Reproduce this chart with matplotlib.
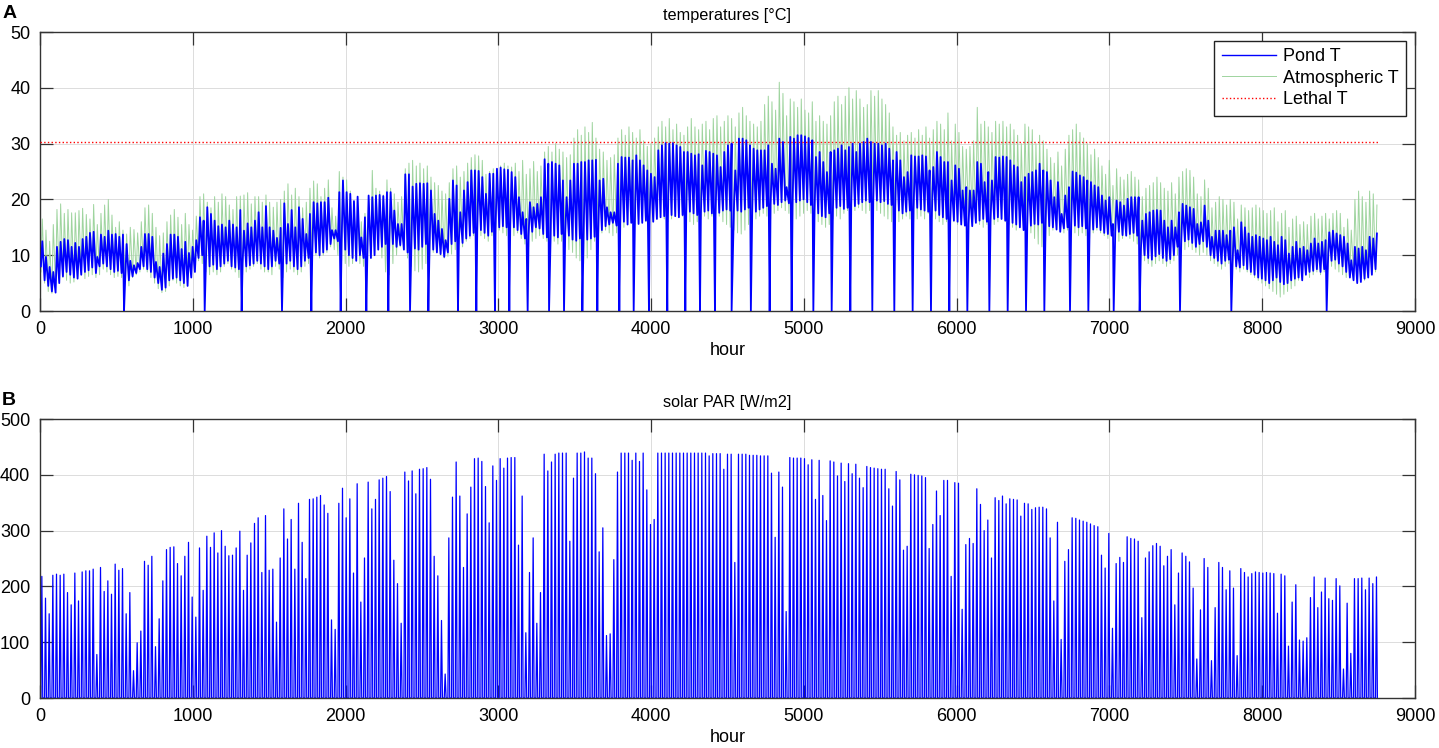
import numpy as np
import matplotlib

matplotlib.use("Agg")
import matplotlib.pyplot as plt  # noqa: E402

plt.rcParams["font.family"] = ["Liberation Sans", "DejaVu Sans"]

# daily peak of solar PAR [W/m2], one value per day
par_peak = [
    218, 179, 151, 220, 222, 220, 222, 189, 167, 224,
    174, 226, 228, 228, 231, 78, 234, 191, 210, 186,
    240, 229, 232, 151, 189, 49, 99, 120, 245, 238,
    254, 92, 142, 210, 266, 270, 271, 241, 219, 254,
    279, 181, 145, 269, 193, 290, 270, 296, 260, 300,
    272, 255, 256, 269, 299, 193, 256, 278, 313, 323,
    225, 327, 229, 231, 136, 251, 339, 285, 320, 231,
    349, 279, 214, 356, 357, 360, 363, 346, 331, 140,
    123, 349, 376, 323, 357, 224, 384, 172, 251, 387,
    339, 356, 391, 394, 397, 370, 247, 205, 134, 405,
    389, 407, 366, 410, 411, 413, 392, 254, 219, 139,
    43, 287, 360, 423, 362, 234, 330, 378, 429, 430,
    424, 379, 314, 416, 390, 429, 412, 430, 431, 431,
    274, 362, 117, 225, 287, 134, 189, 437, 407, 423,
    437, 439, 439, 439, 281, 394, 439, 439, 441, 430,
    430, 402, 262, 305, 112, 115, 248, 405, 439, 439,
    439, 426, 439, 424, 439, 373, 311, 320, 439, 439,
    439, 439, 439, 439, 439, 439, 439, 439, 439, 439,
    439, 439, 434, 438, 438, 438, 410, 437, 437, 243,
    437, 437, 437, 435, 435, 435, 434, 434, 434, 403,
    288, 405, 378, 155, 431, 430, 430, 430, 429, 418,
    427, 356, 426, 363, 318, 425, 423, 398, 421, 388,
    420, 402, 419, 394, 377, 415, 413, 412, 411, 410,
    410, 375, 344, 406, 391, 265, 272, 401, 400, 399,
    398, 395, 268, 311, 371, 327, 390, 390, 218, 386,
    385, 159, 275, 286, 277, 375, 347, 300, 319, 251,
    359, 354, 362, 348, 357, 356, 355, 326, 349, 348,
    338, 341, 342, 342, 339, 287, 174, 315, 105, 245,
    266, 323, 322, 319, 317, 315, 312, 309, 307, 256,
    233, 295, 125, 241, 252, 243, 289, 286, 285, 281,
    144, 251, 262, 273, 277, 272, 237, 254, 266, 167,
    224, 260, 254, 244, 197, 70, 158, 250, 234, 67,
    162, 243, 234, 194, 228, 197, 76, 232, 225, 217,
    223, 226, 225, 224, 225, 224, 223, 152, 222, 219,
    93, 172, 203, 104, 102, 108, 180, 217, 162, 190,
    215, 178, 175, 214, 201, 52, 170, 80, 214, 214,
    215, 194, 215, 205, 217,
]

# pond temperature, daily max / min [°C]
pond_max = [
    12.5, 9.7, 7.9, 7.0, 11.5, 12.4, 12.9, 12.7, 11.5, 12.2,
    11.5, 12.9, 13.3, 14.0, 14.2, 9.7, 13.7, 13.3, 14.4, 13.7,
    13.8, 13.3, 13.7, 12.0, 9.0, 8.2, 8.6, 11.5, 13.8, 13.8,
    13.3, 8.8, 7.9, 10.3, 12.0, 13.7, 13.7, 13.3, 11.1, 12.4,
    10.4, 11.5, 12.7, 16.8, 16.2, 18.6, 17.4, 16.2, 15.2, 15.5,
    15.0, 16.2, 15.5, 15.0, 18.1, 14.4, 15.7, 15.0, 16.2, 17.7,
    15.0, 18.8, 15.0, 14.4, 13.1, 14.9, 19.3, 15.6, 18.1, 15.0,
    18.6, 16.5, 13.8, 17.4, 19.5, 19.3, 19.5, 19.5, 20.3, 14.5,
    14.5, 21.3, 23.4, 21.3, 21.0, 19.7, 20.5, 13.2, 16.8, 20.7,
    20.4, 20.7, 20.8, 20.6, 21.3, 21.3, 18.0, 15.6, 15.6, 24.5,
    24.5, 22.3, 22.8, 22.9, 22.8, 22.9, 21.6, 17.4, 16.2, 14.7,
    12.7, 20.1, 23.4, 22.5, 17.7, 21.6, 23.1, 25.2, 25.2, 25.1,
    24.0, 21.0, 24.6, 24.6, 25.5, 25.7, 25.4, 25.3, 24.9, 24.0,
    20.4, 17.7, 16.5, 19.5, 18.6, 19.2, 20.4, 27.2, 26.4, 26.7,
    26.4, 26.1, 23.4, 20.4, 23.4, 26.4, 26.4, 26.7, 26.7, 27.0,
    27.0, 27.1, 23.4, 23.7, 18.6, 17.7, 17.7, 26.4, 27.6, 27.5,
    27.5, 27.0, 27.9, 27.0, 26.1, 25.2, 24.6, 24.0, 28.8, 29.7,
    30.1, 30.0, 30.1, 29.7, 29.4, 28.5, 28.5, 28.2, 27.9, 28.1,
    26.1, 28.7, 28.5, 28.2, 27.9, 25.8, 28.5, 29.7, 30.0, 25.2,
    30.9, 30.9, 30.6, 29.7, 29.1, 28.8, 28.8, 28.8, 29.7, 26.4,
    25.5, 30.9, 30.3, 22.2, 31.2, 30.9, 31.5, 31.5, 31.3, 31.0,
    30.6, 27.6, 28.5, 26.7, 24.9, 28.5, 28.8, 29.1, 29.7, 28.8,
    29.4, 30.0, 28.5, 30.0, 30.3, 30.9, 30.3, 30.0, 30.0, 29.7,
    30.0, 29.1, 27.0, 28.5, 27.0, 24.0, 24.9, 27.9, 27.7, 27.7,
    27.9, 27.7, 25.2, 25.8, 28.5, 27.6, 26.7, 26.7, 23.4, 26.1,
    25.5, 21.6, 22.2, 21.6, 21.6, 26.7, 26.4, 23.1, 24.9, 23.4,
    27.6, 27.5, 27.7, 27.6, 27.0, 26.1, 25.8, 23.1, 24.0, 24.6,
    24.9, 25.2, 26.4, 25.2, 24.9, 23.4, 20.4, 23.1, 17.4, 20.7,
    22.2, 25.0, 24.8, 24.3, 24.0, 23.4, 23.1, 22.5, 22.2, 20.7,
    19.8, 20.4, 15.6, 19.8, 19.5, 18.9, 20.1, 20.4, 20.4, 20.4,
    16.2, 17.4, 17.7, 18.0, 18.1, 18.0, 16.2, 15.0, 16.2, 15.0,
    17.7, 19.2, 18.9, 18.6, 18.3, 15.6, 15.9, 18.9, 16.2, 13.3,
    14.4, 14.4, 14.4, 13.6, 14.4, 15.0, 10.9, 15.9, 15.0, 13.9,
    13.3, 13.6, 13.3, 13.0, 12.7, 13.3, 12.4, 11.8, 13.3, 12.7,
    10.3, 11.5, 12.4, 11.2, 11.5, 10.9, 12.1, 13.0, 12.1, 12.4,
    12.7, 14.1, 14.4, 13.9, 13.6, 13.3, 12.1, 9.1, 11.5, 11.2,
    11.5, 10.9, 13.3, 13.0, 13.9,
]
pond_min = [
    8.0, 5.5, 4.5, 3.5, 3.3, 5.0, 6.2, 7.0, 6.5, 6.0,
    5.8, 6.5, 7.0, 7.3, 7.8, 6.8, 8.0, 8.5, 8.0, 7.5,
    7.0, 7.2, 6.8, 6.0, 5.5, 6.2, 6.8, 7.5, 8.0, 7.5,
    7.0, 6.0, 5.0, 3.8, 4.2, 5.5, 5.8, 6.0, 5.5, 5.0,
    4.5, 6.0, 7.0, 9.5, 10.0, 8.5, 8.0, 8.3, 7.5, 8.0,
    8.5, 9.0, 8.0, 7.8, 7.5, 8.5, 8.0, 8.2, 8.5, 9.0,
    8.5, 8.0, 7.5, 8.0, 9.0, 8.5, 8.0, 8.5, 9.0, 8.0,
    7.5, 8.0, 9.0, 9.5, 10.0, 10.5, 10.0, 10.5, 11.0, 12.0,
    13.0, 12.5, 12.0, 11.0, 10.0, 9.5, 9.0, 10.0, 9.5, 9.0,
    9.5, 10.0, 11.0, 11.5, 12.0, 12.5, 12.0, 11.5, 11.8, 11.0,
    10.5, 10.8, 11.2, 11.0, 11.5, 12.0, 11.8, 11.0, 10.5, 10.2,
    9.7, 10.5, 12.0, 12.5, 12.8, 12.2, 13.0, 13.5, 14.0, 14.2,
    14.5, 14.0, 13.5, 14.2, 14.8, 15.0, 15.2, 15.0, 15.3, 15.0,
    14.5, 13.8, 13.0, 13.5, 14.2, 15.0, 14.8, 13.8, 13.2, 13.0,
    13.5, 13.2, 13.8, 14.0, 13.5, 12.8, 12.6, 13.0, 13.2, 12.8,
    13.0, 13.3, 13.8, 14.5, 15.2, 15.5, 15.8, 15.3, 15.5, 16.0,
    15.5, 15.8, 16.0, 15.6, 15.8, 16.2, 16.5, 16.0, 16.5, 16.8,
    17.0, 16.8, 17.2, 17.0, 16.8, 17.2, 17.5, 17.8, 17.5, 17.2,
    17.6, 17.8, 18.0, 17.5, 17.2, 17.6, 18.0, 18.2, 18.0, 18.2,
    18.0, 17.8, 18.2, 18.5, 18.0, 17.8, 18.2, 18.5, 18.8, 19.0,
    19.2, 19.0, 19.5, 19.8, 19.3, 19.0, 19.5, 19.8, 20.0, 19.5,
    19.0, 18.0, 17.5, 17.0, 16.8, 17.5, 18.0, 18.5, 18.8, 18.3,
    18.5, 19.0, 18.8, 19.2, 19.5, 19.8, 19.5, 19.6, 19.8, 19.5,
    19.7, 19.2, 19.0, 18.5, 18.0, 17.5, 17.8, 18.0, 18.3, 18.5,
    18.2, 18.0, 17.8, 17.5, 18.0, 17.2, 16.8, 16.5, 16.0, 16.2,
    16.0, 15.5, 15.3, 15.6, 15.2, 15.8, 16.2, 16.5, 16.0, 16.3,
    16.5, 16.8, 16.5, 16.2, 16.0, 15.8, 15.5, 15.0, 14.5, 15.0,
    15.3, 15.6, 15.5, 15.8, 15.4, 15.2, 15.0, 14.6, 14.2, 14.8,
    15.0, 15.5, 15.3, 15.0, 15.2, 14.8, 14.5, 14.6, 15.0, 14.5,
    14.0, 13.8, 13.5, 14.0, 14.2, 13.6, 13.5, 13.8, 14.0, 13.5,
    11.0, 10.0, 9.5, 9.2, 9.8, 10.2, 9.5, 9.0, 9.3, 10.0,
    11.5, 12.2, 12.5, 12.8, 12.2, 11.5, 12.0, 12.5, 11.5, 10.0,
    9.5, 9.0, 8.5, 9.0, 9.2, 8.5, 8.0, 7.8, 8.2, 7.5,
    7.0, 6.5, 6.0, 5.8, 5.5, 5.0, 5.5, 6.0, 5.2, 4.8,
    5.0, 5.5, 5.8, 6.0, 5.5, 6.5, 7.0, 7.2, 7.5, 7.0,
    7.5, 8.5, 9.0, 9.2, 8.5, 8.0, 7.0, 6.0, 5.5, 5.0,
    5.2, 5.8, 6.0, 6.5, 7.5,
]

# hours where the pond temperature drops to 0
drop_hours = [
    550, 1078, 1320, 1584, 1776, 1968, 2136, 2280, 2422, 2542,
    2736, 2856, 2978, 3072, 3192, 3332, 3430, 3550, 3648, 3792,
    3886, 3986, 4106, 4224, 4320, 4418, 4527, 4653, 4776, 4920,
    5062, 5182, 5304, 5448, 5592, 5712, 5832, 5952, 6070, 6214,
    6334, 6454, 6574, 6742, 6862, 7028, 7198, 7462, 7798, 8422,
]

# atmospheric temperature, daily max / min [°C]
atm_max = [
    16.5, 14.5, 12.5, 15.5, 18.2, 19.2, 17.5, 18.2, 17.6, 17.6,
    18.0, 18.4, 17.3, 16.5, 19.1, 15.5, 17.5, 19.0, 20.0, 17.2,
    15.0, 16.0, 14.5, 13.8, 15.0, 14.6, 14.0, 16.0, 18.5, 19.0,
    17.5, 15.0, 13.5, 14.0, 16.0, 17.2, 18.2, 16.8, 15.5, 17.5,
    15.5, 14.5, 17.0, 20.5, 21.0, 19.5, 18.5, 20.5, 19.5, 21.0,
    20.5, 19.0, 18.2, 20.5, 20.6, 20.8, 21.2, 19.2, 20.5, 20.5,
    19.5, 20.8, 19.5, 18.6, 19.5, 20.0, 21.5, 22.8, 20.8, 22.0,
    20.5, 18.5, 19.5, 22.0, 23.3, 22.8, 20.5, 22.0, 23.5, 18.5,
    17.0, 25.0, 24.0, 23.5, 21.5, 19.5, 18.0, 16.0, 17.5, 20.5,
    25.2, 22.0, 21.5, 20.8, 23.5, 22.0, 21.0, 19.5, 20.5, 25.5,
    26.5, 27.0, 26.0, 26.5, 25.5, 26.0, 24.0, 23.0, 22.5, 21.5,
    21.0, 23.0, 25.5, 26.0, 24.0, 25.0, 26.5, 27.5, 28.0, 27.8,
    27.0, 24.5, 25.0, 25.5, 24.5, 26.0, 26.5, 26.0, 25.8, 26.5,
    25.0, 27.0, 24.5, 25.5, 26.8, 25.0, 26.0, 28.5, 29.5, 28.5,
    30.0, 29.0, 28.5, 27.5, 28.0, 31.0, 32.5, 31.5, 33.0, 32.0,
    33.8, 31.0, 29.0, 28.5, 27.0, 27.5, 28.0, 31.0, 32.5, 31.5,
    33.0, 32.0, 31.0, 32.5, 30.5, 29.5, 30.0, 31.0, 33.0, 34.0,
    33.0, 34.5, 32.5, 33.5, 32.0, 31.5, 33.0, 34.5, 33.0, 32.5,
    33.5, 34.0, 32.5, 34.5, 35.0, 33.0, 34.0, 35.0, 34.5, 33.0,
    35.5, 36.5, 35.0, 34.0, 33.5, 33.0, 34.0, 37.0, 38.5, 37.5,
    36.0, 41.0, 39.0, 35.0, 38.0, 37.5, 36.5, 38.0, 36.0, 35.5,
    37.5, 34.0, 35.0, 34.0, 33.5, 35.0, 37.5, 38.5, 37.0, 38.5,
    40.0, 38.0, 39.5, 38.0, 36.5, 37.0, 39.5, 38.5, 39.5, 38.0,
    37.0, 35.5, 33.0, 31.5, 32.0, 30.5, 31.5, 32.0, 31.0, 32.5,
    31.5, 33.0, 31.0, 32.5, 34.0, 33.5, 32.5, 35.5, 30.5, 33.5,
    32.0, 29.5, 29.0, 29.5, 30.5, 36.5, 33.5, 34.0, 33.0, 32.0,
    34.0, 33.5, 34.0, 33.0, 33.5, 32.5, 31.5, 30.0, 33.5, 33.0,
    32.5, 30.0, 31.5, 30.5, 29.0, 27.5, 26.5, 28.5, 26.0, 29.0,
    31.5, 32.5, 33.5, 32.0, 31.0, 30.0, 28.0, 29.0, 27.5, 26.0,
    24.5, 27.0, 22.5, 25.5, 24.0, 23.5, 24.5, 25.0, 24.0, 23.5,
    20.5, 22.0, 22.5, 23.0, 24.0, 23.0, 22.0, 21.5, 23.0, 21.0,
    24.0, 25.0, 25.5, 25.2, 24.0, 21.0, 20.5, 23.5, 22.0, 18.5,
    19.5, 20.5, 20.0, 19.0, 20.0, 19.5, 16.5, 19.0, 18.5, 18.0,
    18.5, 19.0, 18.5, 18.0, 17.5, 18.0, 18.5, 16.0, 17.5, 18.0,
    15.0, 16.5, 17.0, 15.5, 16.0, 15.5, 17.0, 17.5, 16.5, 17.0,
    17.5, 16.5, 17.5, 18.0, 17.5, 15.0, 16.5, 14.5, 20.0, 21.5,
    20.5, 19.5, 21.5, 21.0, 19.0,
]
atm_min = [
    7.0, 5.0, 3.5, 3.2, 4.0, 5.5, 6.0, 5.5, 5.0, 5.2,
    6.0, 6.5, 5.8, 6.2, 6.5, 6.0, 6.5, 7.5, 7.0, 6.5,
    6.0, 6.2, 6.0, 5.5, 4.5, 6.0, 6.5, 7.0, 7.5, 7.0,
    6.0, 5.0, 4.0, 3.3, 3.5, 4.5, 5.5, 5.0, 4.5, 4.2,
    6.0, 6.5, 8.0, 9.0, 8.5, 7.0, 6.5, 7.0, 6.5, 7.0,
    8.0, 8.5, 7.5, 7.0, 6.0, 6.5, 7.0, 7.5, 8.0, 8.5,
    7.5, 7.0, 7.0, 6.5, 8.0, 7.5, 6.0, 7.0, 7.5, 7.0,
    6.5, 7.0, 8.0, 8.5, 9.5, 10.0, 9.5, 10.0, 10.5, 11.5,
    11.0, 10.0, 9.0, 8.5, 8.0, 8.5, 9.0, 8.5, 8.0, 9.0,
    9.5, 10.5, 11.0, 9.5, 7.0, 6.5, 8.5, 10.0, 11.5, 11.0,
    9.5, 8.0, 7.2, 7.0, 7.5, 8.5, 9.5, 10.5, 11.0, 10.0,
    9.5, 9.8, 10.2, 11.0, 12.0, 11.5, 12.5, 13.0, 13.5, 14.0,
    13.5, 13.0, 12.5, 13.5, 14.0, 14.5, 14.0, 13.5, 14.0, 13.5,
    14.0, 13.0, 12.0, 11.5, 12.5, 13.0, 13.5, 13.0, 12.5, 12.0,
    12.5, 12.0, 12.5, 11.5, 11.0, 10.5, 9.5, 9.0, 8.5, 9.5,
    11.0, 12.5, 13.5, 14.0, 14.5, 14.0, 13.5, 14.0, 14.5, 15.0,
    15.5, 16.0, 15.5, 16.0, 16.5, 16.0, 15.5, 16.0, 16.5, 17.0,
    16.5, 16.0, 16.5, 17.0, 17.5, 17.0, 16.5, 16.0, 15.5, 16.0,
    16.5, 17.0, 16.5, 17.0, 17.5, 17.0, 16.0, 15.5, 15.0, 14.5,
    14.0, 13.8, 14.5, 15.5, 16.0, 16.5, 17.0, 17.5, 17.0, 16.5,
    17.5, 18.0, 18.5, 18.0, 17.5, 17.0, 16.5, 17.0, 17.5, 18.0,
    17.5, 17.0, 16.0, 15.5, 15.0, 15.5, 16.5, 17.0, 16.5, 17.5,
    18.0, 17.5, 18.0, 18.5, 18.0, 17.5, 18.0, 18.5, 18.0, 17.5,
    17.0, 16.5, 16.0, 15.5, 16.0, 16.5, 17.0, 16.5, 16.0, 16.5,
    17.0, 16.5, 17.5, 17.0, 16.5, 16.0, 15.5, 16.0, 16.5, 16.0,
    15.5, 16.0, 16.5, 17.0, 16.5, 16.0, 15.5, 15.0, 15.5, 16.0,
    15.5, 16.0, 16.5, 16.0, 15.5, 15.0, 14.5, 15.0, 15.5, 15.0,
    14.0, 13.0, 12.0, 11.5, 12.5, 13.5, 14.5, 15.0, 14.5, 14.0,
    14.5, 14.5, 14.0, 13.5, 14.0, 13.5, 13.0, 14.0, 14.5, 14.0,
    13.5, 13.0, 13.5, 13.0, 12.5, 13.0, 13.5, 13.0, 12.5, 12.0,
    10.0, 9.0, 8.5, 8.0, 8.5, 9.0, 8.5, 8.0, 8.5, 9.0,
    10.0, 10.5, 11.0, 11.5, 11.0, 10.5, 10.0, 10.5, 10.0, 9.0,
    8.5, 8.0, 7.5, 8.0, 8.5, 8.0, 7.5, 7.0, 7.5, 7.0,
    6.5, 6.0, 5.5, 5.0, 4.5, 4.0, 3.5, 3.0, 2.5, 3.0,
    3.5, 4.0, 4.5, 5.5, 6.0, 6.5, 6.0, 6.5, 7.0, 6.5,
    7.0, 7.5, 8.0, 7.5, 7.0, 6.5, 6.0, 6.5, 7.0, 6.5,
    6.0, 5.5, 6.0, 6.5, 7.0,
]

lethal_T = 30.3
n_hours = 8760

BLUE = "#0000ff"
GREEN = "#9ed49e"
TICK_FS = 13
TITLE_FS = 11.7

# hourly positions of the daily extremes
days = np.arange(len(pond_max))
t_min = days * 24 + 6
t_max = days * 24 + 15

pond_h = np.concatenate([t_min, t_max, drop_hours])
pond_v = np.concatenate([pond_min, pond_max, np.zeros(len(drop_hours))])
order = np.argsort(pond_h, kind="stable")
pond_h, pond_v = pond_h[order], pond_v[order]

atm_h = np.concatenate([t_min, t_max])
atm_v = np.concatenate([atm_min, atm_max])
order = np.argsort(atm_h, kind="stable")
atm_h, atm_v = atm_h[order], atm_v[order]

par_days = np.arange(len(par_peak))
par_h = np.column_stack([par_days * 24 + 6, par_days * 24 + 12, par_days * 24 + 18]).ravel()
par_v = np.column_stack([np.zeros(len(par_peak)), par_peak, np.zeros(len(par_peak))]).ravel()

fig = plt.figure(figsize=(14.39, 7.48), dpi=100)
ax1 = fig.add_axes([0.0278, 0.5842, 0.9555, 0.373])
ax2 = fig.add_axes([0.0278, 0.0668, 0.9555, 0.373])


def style_axes(ax, yticks):
    ax.set_xlim(0, 9000)
    ax.set_xticks(np.arange(0, 9001, 1000))
    ax.set_ylim(yticks[0], yticks[-1])
    ax.set_yticks(yticks)
    ax.grid(True, color="#dcdcdc", linewidth=0.7)
    ax.set_axisbelow(True)
    ax.tick_params(direction="in", length=9.5, width=0.9, color="#333333",
                   labelsize=TICK_FS, pad=7, top=True, right=True)
    for sp in ax.spines.values():
        sp.set_color("#333333")
        sp.set_linewidth(1.0)
    ax.set_xlabel("hour", fontsize=TICK_FS, labelpad=3)


ax1.plot(atm_h, atm_v, color=GREEN, linewidth=0.7, label="Atmospheric T", zorder=2)
ax1.plot(pond_h, pond_v, color=BLUE, linewidth=1.3, label="Pond T", zorder=3)
ax1.plot([0, n_hours], [lethal_T, lethal_T], color="red", linestyle=":", linewidth=1.0,
         label="Lethal T", zorder=4)
style_axes(ax1, np.arange(0, 51, 10))
ax1.set_title("temperatures [°C]", fontsize=TITLE_FS, pad=9)

handles, labels = ax1.get_legend_handles_labels()
order_leg = [labels.index(n) for n in ["Pond T", "Atmospheric T", "Lethal T"]]
leg = ax1.legend([handles[i] for i in order_leg], [labels[i] for i in order_leg],
                 loc="upper right", fontsize=TICK_FS, frameon=True, fancybox=False,
                 framealpha=1, edgecolor="#222222", borderpad=0.4, labelspacing=0.25,
                 handlelength=3.0, handletextpad=0.4, borderaxespad=0.5)
leg.get_frame().set_linewidth(1.0)
leg.get_lines()[0].set_linewidth(1.0)

ax2.plot(par_h, par_v, color=BLUE, linewidth=0.9)
style_axes(ax2, np.arange(0, 501, 100))
ax2.set_title("solar PAR [W/m2]", fontsize=TITLE_FS, pad=9)

fig.text(0.002, 0.993, "A", fontsize=14, fontweight="bold", va="top", ha="left")
fig.text(0.001, 0.476, "B", fontsize=14, fontweight="bold", va="top", ha="left")

fig.savefig("out.png", dpi=100, facecolor="white")
plt.close(fig)
